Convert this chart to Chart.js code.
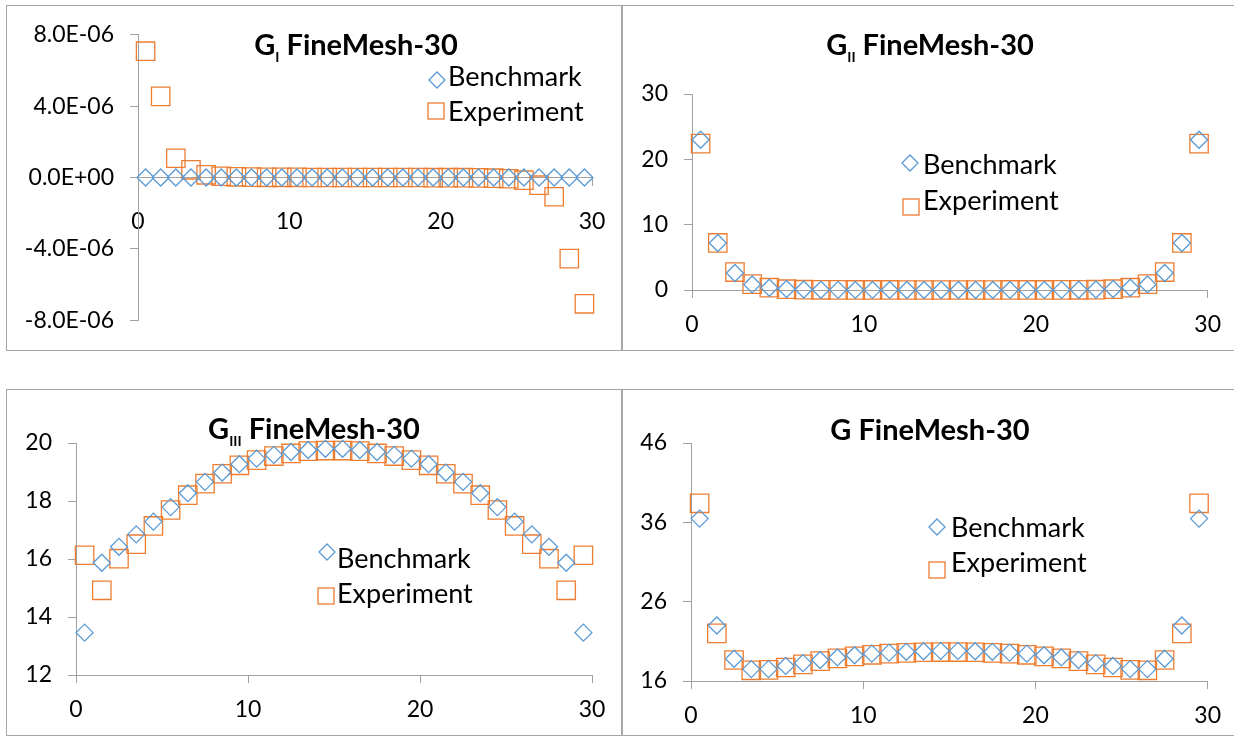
<!DOCTYPE html>
<html>
<head>
<meta charset="utf-8">
<script src="https://cdn.jsdelivr.net/npm/chart.js@4.4.1/dist/chart.umd.min.js"></script>
<style>
	body { margin: 0; width: 1234px; height: 736px; background: #fff; overflow: hidden; position: relative; font-family: Lato, sans-serif; color: #000; }
	.panel { position: absolute; box-sizing: border-box; border: 1px solid #a6a6a6; }
	canvas { position: absolute; }
	.title { position: absolute; width: 400px; text-align: center; font-weight: bold; font-size: 29px; line-height: 35px; white-space: nowrap; }
	.title sub { font-size: 14px; line-height: 0; vertical-align: -7px; }
	.legend { position: absolute; font-size: 27px; line-height: 32px; white-space: nowrap; }
	.mark { position: absolute; }
</style>
</head>
<body>
<script>
'use strict'

const seriesNames = ['Benchmark', 'Experiment'];
const xPos = [0.5, 1.5, 2.5, 3.5, 4.5, 5.5, 6.5, 7.5, 8.5, 9.5, 10.5, 11.5, 12.5, 13.5, 14.5,
	15.5, 16.5, 17.5, 18.5, 19.5, 20.5, 21.5, 22.5, 23.5, 24.5, 25.5, 26.5, 27.5, 28.5, 29.5];
const xTicks = [0, 10, 20, 30];

// G_I
const giBench = [0, 0, 0, 0, 0, 0, 0, 0, 0, 0, 0, 0, 0, 0, 0, 0, 0, 0, 0, 0, 0, 0, 0, 0, 0, 0, 0, 0, 0, 0];
const giExp = [7.08e-6, 4.55e-6, 1.08e-6, 0.43e-6, 0.15e-6, 0.07e-6, 0.04e-6, 0.02e-6, 0.01e-6, 0.01e-6,
	0.01e-6, 0, 0, 0, 0, 0, 0, 0, 0, -0.01e-6,
	-0.01e-6, -0.01e-6, -0.02e-6, -0.04e-6, -0.07e-6, -0.15e-6, -0.43e-6, -1.08e-6, -4.55e-6, -7.08e-6];
const giTicks = [-8e-6, -4e-6, 0, 4e-6, 8e-6];

// G_II
const giiBench = [23.0, 7.2, 2.6, 0.85, 0.35, 0.15, 0.07, 0.04, 0.02, 0.01, 0.01, 0.01, 0, 0, 0,
	0, 0, 0, 0.01, 0.01, 0.01, 0.02, 0.04, 0.07, 0.15, 0.35, 0.85, 2.6, 7.2, 23.0];
const giiExp = [22.4, 7.2, 2.75, 0.9, 0.35, 0.12, 0.05, 0.03, 0.02, 0.01, 0.01, 0.01, 0, 0, 0,
	0, 0, 0, 0.01, 0.01, 0.01, 0.02, 0.03, 0.05, 0.12, 0.35, 0.9, 2.75, 7.2, 22.4];
const giiTicks = [0, 10, 20, 30];

// G_III
const giiiBench = [13.46, 15.87, 16.42, 16.85, 17.29, 17.79, 18.27, 18.66, 18.98, 19.27, 19.46, 19.59, 19.69, 19.76, 19.8,
	19.8, 19.76, 19.69, 19.59, 19.46, 19.27, 18.98, 18.66, 18.27, 17.79, 17.29, 16.85, 16.42, 15.87, 13.46];
const giiiExp = [16.13, 14.92, 16.01, 16.51, 17.14, 17.69, 18.2, 18.6, 18.94, 19.23, 19.41, 19.55, 19.64, 19.72, 19.74,
	19.74, 19.72, 19.64, 19.55, 19.41, 19.23, 18.94, 18.6, 18.2, 17.69, 17.14, 16.51, 16.01, 14.92, 16.13];
const giiiTicks = [12, 14, 16, 18, 20];

// G
const gBench = [36.47, 23.0, 18.8, 17.5, 17.5, 17.9, 18.25, 18.65, 18.97, 19.25, 19.45, 19.58, 19.68, 19.75, 19.8,
	19.8, 19.75, 19.68, 19.58, 19.45, 19.25, 18.97, 18.65, 18.25, 17.9, 17.5, 17.5, 18.8, 23.0, 36.47];
const gExp = [38.4, 22.0, 18.65, 17.35, 17.4, 17.7, 18.1, 18.5, 18.85, 19.1, 19.3, 19.45, 19.55, 19.62, 19.65,
	19.65, 19.62, 19.55, 19.45, 19.3, 19.1, 18.85, 18.5, 18.1, 17.7, 17.4, 17.35, 18.65, 22.0, 38.4];
const gTicks = [16, 26, 36, 46];

const blue = '#5B9BD5';
const orange = '#ED7D31';
const axisColor = '#a0a0a0';

Chart.defaults.font.family = 'Lato, sans-serif';
Chart.defaults.color = '#000';

function sci(v) {
	if (v === 0) return '0.0E+00';
	let parts = v.toExponential(1).split('e');
	let n = parseInt(parts[1], 10);
	return parts[0] + 'E' + (n < 0 ? '-' : '+') + String(Math.abs(n)).padStart(2, '0');
}

function addDiv(cls, left, top, html, extra) {
	let el = document.createElement('div');
	el.className = cls;
	el.style.left = left + 'px';
	el.style.top = top + 'px';
	if (extra) Object.assign(el.style, extra);
	el.innerHTML = html;
	document.body.appendChild(el);
	return el;
}

function addMark(kind, cx, cy) {
	const s = 20;
	let svg = '<svg width="' + s + '" height="' + s + '" viewBox="0 0 ' + s + ' ' + s + '">';
	if (kind === 0) {
		svg += '<polygon points="2,10 10,2 18,10 10,18" fill="none" stroke="' + blue + '" stroke-width="1.3"/>';
	} else {
		svg += '<rect x="2" y="2" width="16" height="16" fill="none" stroke="' + orange + '" stroke-width="1.3"/>';
	}
	svg += '</svg>';
	addDiv('mark', cx - s / 2, cy - s / 2, svg, { width: s + 'px', height: s + 'px' });
}

const tickFont = { size: 23 };

function buildPanel(p) {
	// frame
	addDiv('panel', p.frame[0], p.frame[1], '', { width: p.frame[2] + 'px', height: p.frame[3] + 'px' });

	const box = p.box;
	const a = p.area;
	const centered = p.xAtZero === true;
	const canvas = document.createElement('canvas');
	canvas.width = box[2];
	canvas.height = box[3];
	canvas.style.left = box[0] + 'px';
	canvas.style.top = box[1] + 'px';
	document.body.appendChild(canvas);

	const bottomSpace = box[1] + box[3] - a.bottom;

	new Chart(canvas, {
		type: 'scatter',
		data: {
			datasets: [
				{
					label: seriesNames[0],
					data: xPos.map((x, i) => ({ x: x, y: p.bench[i] })),
					pointStyle: 'rectRot',
					pointRadius: 8.5,
					pointHoverRadius: 8.5,
					pointBorderColor: blue,
					pointBackgroundColor: 'rgba(0,0,0,0)',
					pointBorderWidth: 1.3,
					clip: false,
				},
				{
					label: seriesNames[1],
					data: xPos.map((x, i) => ({ x: x, y: p.exp[i] })),
					pointStyle: 'rect',
					pointRadius: 13,
					pointHoverRadius: 13,
					pointBorderColor: orange,
					pointBackgroundColor: 'rgba(0,0,0,0)',
					pointBorderWidth: 1.3,
					clip: false,
				},
			],
		},
		options: {
			responsive: false,
			animation: false,
			events: [],
			layout: {
				padding: {
					left: 0,
					top: a.top - box[1],
					right: box[0] + box[2] - a.right,
					bottom: centered ? bottomSpace : 0,
				},
			},
			plugins: {
				legend: { display: false },
				tooltip: { enabled: false },
			},
			scales: {
				x: {
					type: 'linear',
					min: 0,
					max: 30,
					position: centered ? { y: 0 } : 'bottom',
					afterBuildTicks: (s) => { s.ticks = xTicks.map((v) => ({ value: v })); },
					afterFit: (s) => { if (!centered) s.height = bottomSpace; },
					grid: { drawOnChartArea: false, drawTicks: true, tickLength: 8, color: axisColor },
					border: { color: axisColor, width: 1 },
					ticks: { padding: p.xPad || 13, font: tickFont, maxRotation: 0, autoSkip: false, color: '#000' },
				},
				y: {
					type: 'linear',
					min: p.yTicks[0],
					max: p.yTicks[p.yTicks.length - 1],
					afterBuildTicks: (s) => { s.ticks = p.yTicks.map((v) => ({ value: v })); },
					afterFit: (s) => { s.width = a.left - box[0]; },
					grid: { drawOnChartArea: false, drawTicks: true, tickLength: 8, color: axisColor },
					border: { color: axisColor, width: 1 },
					ticks: {
						padding: 16,
						font: tickFont,
						color: '#000',
						autoSkip: false,
						callback: p.fmt || ((v) => String(v)),
					},
				},
			},
		},
	});

	// title with subscript, centred at p.title.cx, baseline at p.title.base
	let t = 'G' + (p.sub ? '<sub>' + p.sub + '</sub>' : '') + ' FineMesh-30';
	addDiv('title', p.title.cx - 200, p.title.base - 29, t);

	// legend
	seriesNames.forEach((name, i) => {
		addDiv('legend', p.legend.left, p.legend.base[i] - 27, name);
		addMark(i, p.legend.marks[i][0], p.legend.marks[i][1]);
	});
}

// the canvas of this panel runs past its frame on the right: the label padding of an
// axis that crosses at y = 0 is also reserved at the ends, so it needs room there
buildPanel({
	frame: [6, 5, 616, 346],
	box: [7, 5, 660, 345],
	area: { left: 138, right: 592, top: 33, bottom: 321 },
	xAtZero: true,
	xPad: 22,
	bench: giBench,
	exp: giExp,
	yTicks: giTicks,
	fmt: sci,
	sub: 'I',
	title: { cx: 356, base: 55 },
	legend: { left: 448, base: [87, 122], marks: [[437, 80], [436, 111]] },
});

buildPanel({
	frame: [622, 5, 640, 346],
	box: [623, 5, 611, 345],
	area: { left: 692, right: 1208, top: 94, bottom: 290 },
	bench: giiBench,
	exp: giiExp,
	yTicks: giiTicks,
	sub: 'II',
	title: { cx: 930, base: 55 },
	legend: { left: 923, base: [175, 211], marks: [[910, 163], [910.5, 207]] },
});

buildPanel({
	frame: [6, 389, 616, 347],
	box: [7, 390, 614, 345],
	area: { left: 76, right: 592, top: 443, bottom: 675 },
	bench: giiiBench,
	exp: giiiExp,
	yTicks: giiiTicks,
	sub: 'III',
	title: { cx: 314, base: 439 },
	legend: { left: 337, base: [569, 604], marks: [[327, 552], [326, 596]] },
});

buildPanel({
	frame: [622, 389, 640, 347],
	box: [623, 390, 611, 345],
	area: { left: 691, right: 1208, top: 443, bottom: 681 },
	bench: gBench,
	exp: gExp,
	yTicks: gTicks,
	title: { cx: 930, base: 440 },
	legend: { left: 951, base: [538, 573], marks: [[937, 527], [937, 570]] },
});
</script>
</body>
</html>
